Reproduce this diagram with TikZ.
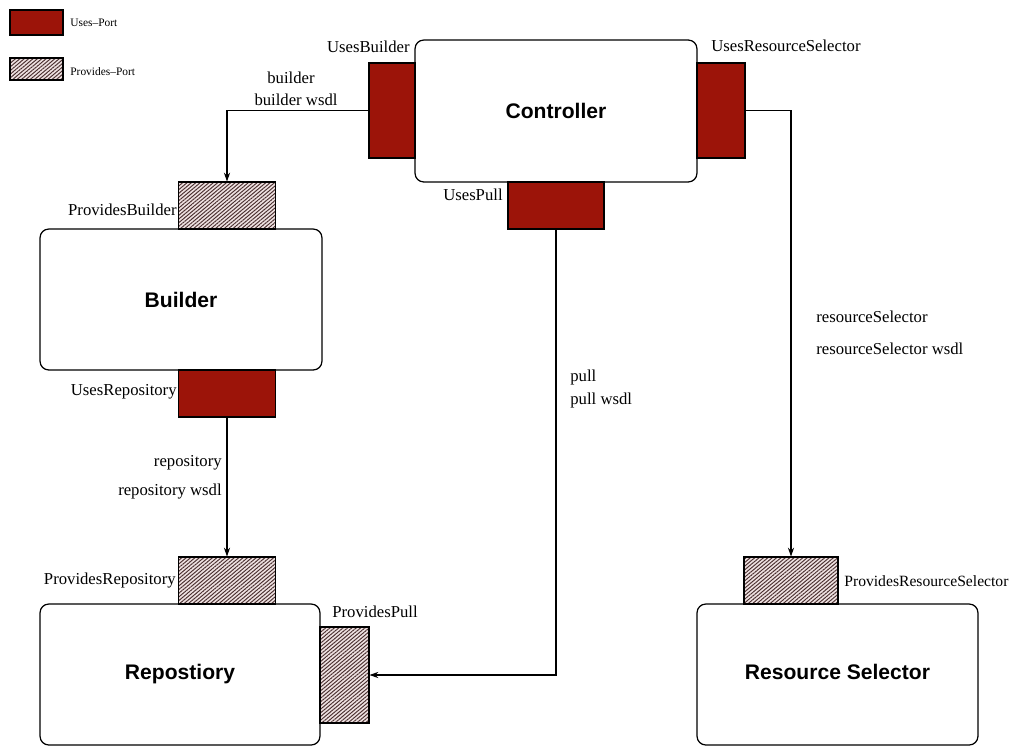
\documentclass[tikz,border=0pt]{standalone}
\usepackage{fontspec}
\setmainfont{Liberation Serif}
\setsansfont{Liberation Sans}
\usetikzlibrary{patterns.meta,arrows.meta}
\definecolor{usesred}{HTML}{9C1409}
\definecolor{hatchbg}{HTML}{EFE2E2}
\definecolor{hatchline}{HTML}{4A3030}
\tikzset{
  component/.style={draw, line width=0.7pt, rounded corners=5pt, fill=white,
    font=\sffamily\bfseries\fontsize{12}{14}\selectfont, inner sep=0pt},
  usesport/.style={draw, line width=0.6pt, fill=usesred, inner sep=0pt},
  provport/.style={draw, line width=0.6pt, inner sep=0pt,
    preaction={fill=hatchbg},
    pattern={Lines[angle=40,distance=1.6pt,line width=0.55pt]}, pattern color=hatchline},
  lbl/.style={font=\fontsize{9.5}{11}\selectfont, inner sep=0pt},
  smalllbl/.style={font=\fontsize{8.9}{10}\selectfont, inner sep=0pt},
  legendlbl/.style={font=\fontsize{6.5}{8}\selectfont, inner sep=0pt, anchor=west},
  link/.style={line width=0.6pt, -{Stealth[length=5pt,width=3.5pt]}},
}
\begin{document}
\begin{tikzpicture}[x=0.02cm,y=-0.02cm]
\useasboundingbox (0,0) rectangle (1018,747);

% legend
\node[usesport, minimum width=1.06cm, minimum height=0.5cm] (leguses) at (36.5,22.5) {};
\node[legendlbl] (leguseslbl) at (70,23) {Uses--Port};
\node[provport, minimum width=1.06cm, minimum height=0.44cm] (legprov) at (36.5,69) {};
\node[legendlbl] (legprovlbl) at (70,72) {Provides--Port};

% components
\node[component, minimum width=5.64cm, minimum height=2.84cm] (ctrl) at (556,111) {Controller};
\node[component, minimum width=5.64cm, minimum height=2.82cm] (builder) at (181,299.5) {Builder};
\node[component, minimum width=5.60cm, minimum height=2.82cm] (repo) at (180,674.5) {\raisebox{-3pt}{Repostiory}};
\node[component, minimum width=5.62cm, minimum height=2.82cm] (rsel) at (837.5,674.5) {\raisebox{3pt}{Resource Selector}};

% ports
\node[usesport, minimum width=0.92cm, minimum height=1.90cm] (ub) at (392,110.5) {};
\node[usesport, minimum width=0.96cm, minimum height=1.90cm] (urs) at (721,110.5) {};
\node[usesport, minimum width=1.92cm, minimum height=0.94cm] (up) at (556,205.5) {};
\node[provport, minimum width=1.94cm, minimum height=0.94cm] (pb) at (227,205.5) {};
\node[usesport, minimum width=1.94cm, minimum height=0.94cm] (ur) at (227,393.5) {};
\node[provport, minimum width=1.94cm, minimum height=0.94cm] (pr) at (227,580.5) {};
\node[provport, minimum width=0.98cm, minimum height=1.92cm] (pp) at (344.5,675) {};
\node[provport, minimum width=1.88cm, minimum height=0.94cm] (prs) at (791,580.5) {};

% port labels
\node[lbl, anchor=east] (ublbl) at (410,47) {UsesBuilder};
\node[lbl, anchor=west] (urslbl) at (711,46) {UsesResourceSelector};
\node[lbl, anchor=east] (uplbl) at (503,195) {UsesPull};
\node[lbl, anchor=east] (pblbl) at (177,210) {ProvidesBuilder};
\node[lbl, anchor=east] (urlbl) at (177,392) {UsesRepository};
\node[lbl, anchor=east] (prlbl) at (176,581) {ProvidesRepository};
\node[lbl, anchor=west] (pplbl) at (332,612) {ProvidesPull};
\node[smalllbl, anchor=west] (prslbl) at (844,581) {ProvidesResourceSelector};

% connectors
\draw[link] (ub.west) -| (pb.north);
\draw[link] (ur.south) -- (pr.north);
\draw[link] (up.south) |- (pp.east);
\draw[link] (urs.east) -| (prs.north);

% connector labels
\node[lbl] (b1) at (291,78) {builder};
\node[lbl] (b2) at (296,100) {builder wsdl};
\node[lbl, anchor=east] (r1) at (222,463) {repository};
\node[lbl, anchor=east] (r2) at (222,492) {repository wsdl};
\node[lbl, anchor=west] (p1) at (570,377) {pull};
\node[lbl, anchor=west] (p2) at (570,400) {pull wsdl};
\node[lbl, anchor=west] (s1) at (816,317) {resourceSelector};
\node[lbl, anchor=west] (s2) at (816,349) {resourceSelector wsdl};
\end{tikzpicture}
\end{document}
